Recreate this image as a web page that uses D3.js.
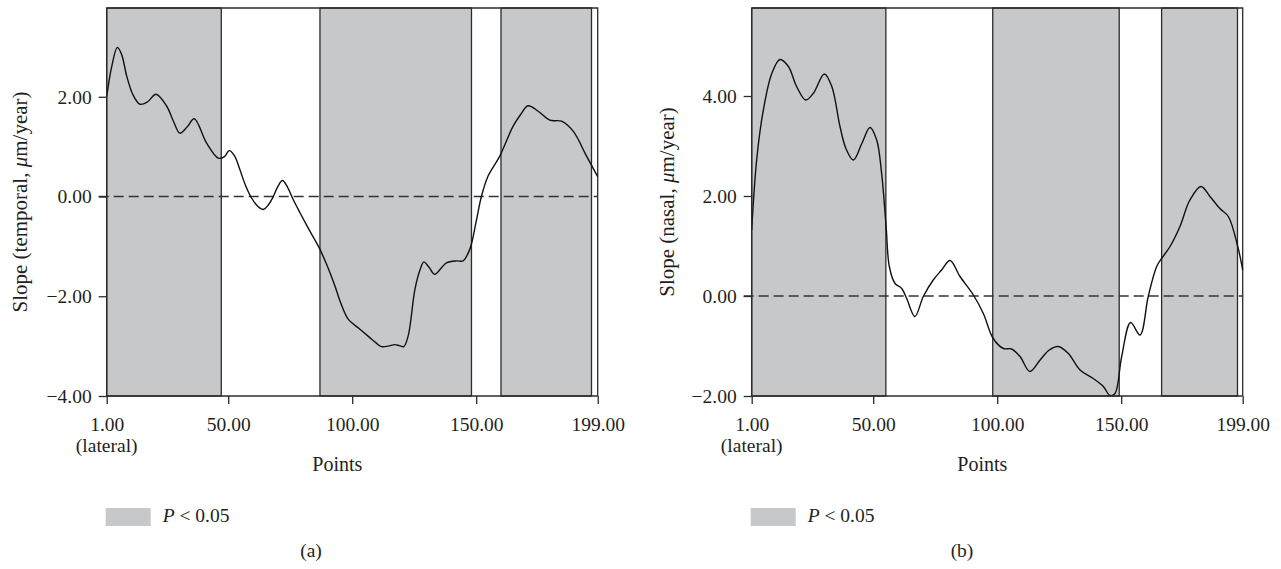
<!DOCTYPE html>
<html>
<head>
<meta charset="utf-8">
<script src="https://cdn.jsdelivr.net/npm/d3@7"></script>
<style>
  body { margin: 0; background: #fff; }
  text { font-family: "Liberation Serif", "DejaVu Serif", serif; fill: #231f20; }
</style>
</head>
<body>
<div id="chart"></div>
<script>
// Points along the scan (x) and slope values (y)
var temporalPoints = [1, 3, 5.3, 7, 9.1, 11.5, 14.4, 17.5, 20.9, 25.2, 28, 30.5, 33.5, 36.3, 41.3, 46, 48.5, 50.4, 52.5, 54.7, 57, 59.4, 62, 64.1, 66, 68.2, 70, 71.9, 74, 76.2, 78.9, 83, 87, 90, 93, 95.5, 98.4, 103.1, 107.1, 109.5, 111.8, 114.5, 117.2, 119, 120.8, 122.6, 125.3, 127.5, 128.9, 131, 133.3, 136, 138, 142.1, 144.7, 147.4, 150, 152.1, 154.8, 159.5, 164.9, 168, 170.9, 175, 179.7, 184.4, 189.1, 194.5, 199];
var temporalSlope = [2.0, 2.6, 2.99, 2.85, 2.41, 2.05, 1.85, 1.9, 2.05, 1.81, 1.5, 1.27, 1.4, 1.56, 1.07, 0.77, 0.8, 0.92, 0.82, 0.54, 0.22, -0.03, -0.2, -0.26, -0.18, 0.0, 0.2, 0.32, 0.18, -0.06, -0.32, -0.7, -1.06, -1.4, -1.79, -2.15, -2.46, -2.66, -2.83, -2.93, -3.01, -3.0, -2.97, -2.99, -3.01, -2.79, -1.86, -1.45, -1.31, -1.42, -1.56, -1.43, -1.33, -1.29, -1.29, -1.06, -0.5, 0.0, 0.41, 0.81, 1.41, 1.65, 1.82, 1.71, 1.53, 1.51, 1.31, 0.81, 0.4];

var nasalPoints = [1, 3, 5.7, 9.1, 12.4, 15.8, 19.1, 22.8, 25.8, 30.3, 33.3, 36.6, 39, 42, 45.4, 48.7, 51.4, 53.4, 55.2, 56.5, 58.8, 61.5, 63.5, 66.8, 70.2, 74.2, 77.6, 81, 85, 90.4, 94.4, 98.4, 102.5, 105.8, 109.2, 113.2, 117.3, 121, 124.6, 128.7, 133.4, 138.7, 142.8, 145.5, 147.5, 150.2, 153.8, 157.6, 160.9, 164.3, 166.3, 169.7, 173.7, 177.7, 182.2, 185.8, 189.8, 193.2, 197, 199];
var nasalSlope = [1.32, 2.72, 3.72, 4.45, 4.73, 4.59, 4.19, 3.92, 4.05, 4.44, 4.19, 3.39, 2.95, 2.72, 3.05, 3.37, 3.12, 2.45, 1.39, 0.59, 0.25, 0.15, -0.05, -0.41, -0.01, 0.32, 0.52, 0.71, 0.39, 0.02, -0.35, -0.85, -1.05, -1.06, -1.21, -1.51, -1.28, -1.08, -1.01, -1.15, -1.48, -1.65, -1.81, -1.99, -1.95, -1.21, -0.53, -0.78, -0.01, 0.59, 0.75, 0.99, 1.39, 1.92, 2.19, 1.99, 1.75, 1.59, 0.99, 0.52];

// P < 0.05 ranges (start point, end point)
var temporalSignif = [[1, 47.2], [87, 148.1], [160, 196.5]];
var nasalSignif = [[1, 55.1], [98.2, 149.2], [166.3, 196.9]];

var xTicks = [1, 50, 100, 150, 199];
var temporalYTicks = [-4, -2, 0, 2];
var nasalYTicks = [-2, 0, 2, 4];

var svg = d3.select("#chart").append("svg")
  .attr("width", 1281)
  .attr("height", 569);

function drawPanel(opt) {
  var x = d3.scaleLinear().domain([1, 199]).range([opt.left, opt.left + 491]);
  var y = d3.scaleLinear().domain(opt.yDomain).range([396, 8]);
  var g = svg.append("g");

  // shaded significant ranges
  g.selectAll("rect.sig")
    .data(opt.signif)
    .enter().append("rect")
    .attr("class", "sig")
    .attr("x", function(d) { return x(d[0]); })
    .attr("y", y.range()[1])
    .attr("width", function(d) { return x(d[1]) - x(d[0]); })
    .attr("height", y.range()[0] - y.range()[1])
    .attr("fill", "#c7c8ca")
    .attr("stroke", "#2b2b2b")
    .attr("stroke-width", 1.3);

  // frame: top + right
  g.append("path")
    .attr("d", "M" + x(1) + "," + y.range()[1] + "H" + x(199) + "V" + y.range()[0])
    .attr("fill", "none")
    .attr("stroke", "#2b2b2b")
    .attr("stroke-width", 1.3);

  // zero line
  g.append("line")
    .attr("x1", x(1) - 8).attr("x2", x(199))
    .attr("y1", y(0)).attr("y2", y(0))
    .attr("stroke", "#333")
    .attr("stroke-width", 1.3)
    .attr("stroke-dasharray", "10,5");

  var line = d3.line()
    .x(function(d) { return x(d[0]); })
    .y(function(d) { return y(d[1]); })
    .curve(d3.curveCatmullRom.alpha(0.5));

  g.append("path")
    .datum(d3.zip(opt.xs, opt.ys))
    .attr("d", line)
    .attr("fill", "none")
    .attr("stroke", "#111")
    .attr("stroke-width", 1.4);

  var xAxis = g.append("g")
    .attr("transform", "translate(0,396)")
    .call(d3.axisBottom(x).tickValues(xTicks).tickSize(8).tickPadding(13).tickFormat(d3.format(".2f")));
  var yAxis = g.append("g")
    .attr("transform", "translate(" + x(1) + ",0)")
    .call(d3.axisLeft(y).tickValues(opt.yTicks).tickSize(8).tickPadding(7).tickFormat(d3.format(".2f")));

  [xAxis, yAxis].forEach(function(a) {
    a.select(".domain").attr("stroke", "#2b2b2b").attr("stroke-width", 1.3);
    a.selectAll(".tick line").attr("stroke", "#2b2b2b").attr("stroke-width", 1.3);
    a.selectAll("text").attr("font-size", 19.5).attr("font-family", null).attr("fill", "#231f20");
  });
  xAxis.selectAll(".domain").attr("d", "M" + x(1) + ",0H" + x(199));
  yAxis.selectAll(".domain").attr("d", "M0," + y.range()[0] + "V" + y.range()[1]);

  g.append("text")
    .attr("x", x(1)).attr("y", 452)
    .attr("text-anchor", "middle")
    .attr("font-size", 19.5)
    .text("(lateral)");

  g.append("text")
    .attr("x", x(94)).attr("y", 471)
    .attr("text-anchor", "middle")
    .attr("font-size", 20)
    .text("Points");

  var yl = g.append("text")
    .attr("transform", "translate(" + opt.labelX + "," + ((396 + 8) / 2) + ") rotate(-90)")
    .attr("text-anchor", "middle")
    .attr("font-size", 21);
  yl.append("tspan").text(opt.label[0]);
  yl.append("tspan").attr("font-style", "italic").text("μ");
  yl.append("tspan").text(opt.label[1]);

  // legend
  g.append("rect")
    .attr("x", opt.left - 1).attr("y", 508)
    .attr("width", 45).attr("height", 18)
    .attr("fill", "#c7c8ca");
  var lt = g.append("text")
    .attr("x", opt.left + 56).attr("y", 522)
    .attr("font-size", 19.5);
  lt.append("tspan").attr("font-style", "italic").text("P");
  lt.append("tspan").text(" < 0.05");

  g.append("text")
    .attr("x", opt.captionX).attr("y", 557)
    .attr("text-anchor", "middle")
    .attr("font-size", 19.5)
    .text(opt.caption);
}

drawPanel({
  left: 106.7, yDomain: [-4, 3.78], yTicks: temporalYTicks,
  xs: temporalPoints, ys: temporalSlope, signif: temporalSignif,
  label: ["Slope (temporal, ", "m/year)"], labelX: 27,
  caption: "(a)", captionX: 311
});

drawPanel({
  left: 751.7, yDomain: [-2, 5.76], yTicks: nasalYTicks,
  xs: nasalPoints, ys: nasalSlope, signif: nasalSignif,
  label: ["Slope (nasal, ", "m/year)"], labelX: 674,
  caption: "(b)", captionX: 962
});
</script>
</body>
</html>
